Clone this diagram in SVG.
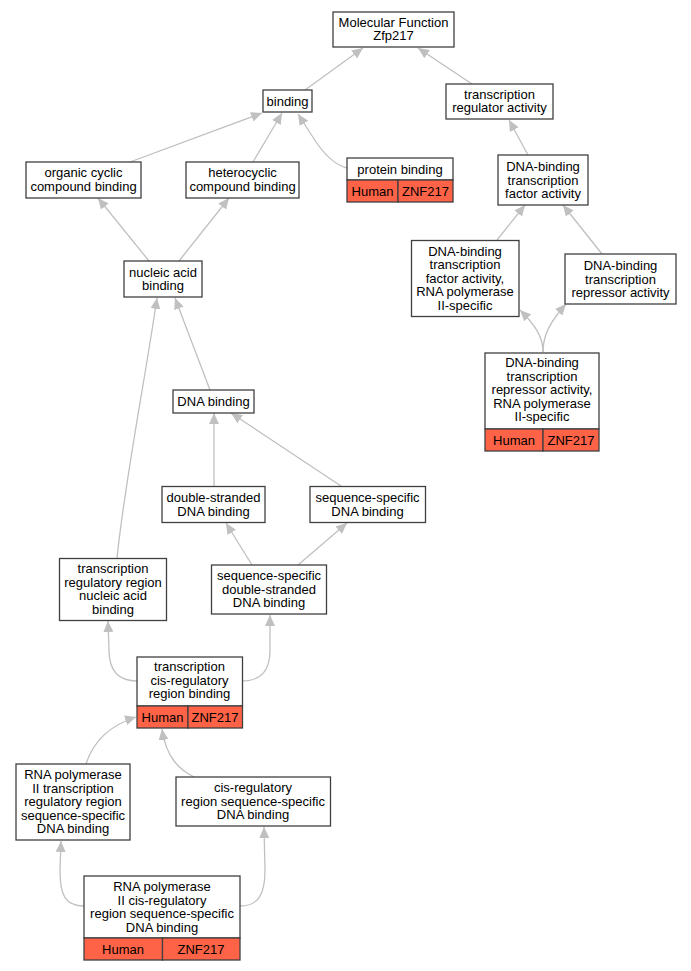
<svg xmlns="http://www.w3.org/2000/svg" width="691" height="971" viewBox="0 0 691 971">
<defs>
<style>
.n rect{fill:#fff;stroke:#404040;stroke-width:1.3}
.n rect.h{fill:#ff6347}
text{font-family:"Liberation Sans",Arial,sans-serif;font-size:13px;fill:#000;text-anchor:middle}
.e path{fill:none;stroke:#c0c0c0;stroke-width:1.3;marker-end:url(#a)}
</style>
<marker id="a" markerUnits="userSpaceOnUse" markerWidth="12" markerHeight="10" refX="11" refY="5" orient="auto"><path d="M0,0 L11,5 L0,10 Z" fill="#c0c0c0"/></marker>
</defs>
<rect width="691" height="971" fill="#fff"/>
<g id="edges" class="e">
<path d="M305,90 L363,48"/>
<path d="M472,84 L418,48"/>
<path d="M130,162 L262,113"/>
<path d="M253,162 L282,113"/>
<path d="M347,168 C335,165 325,155 316,142 L298,114"/>
<path d="M528,155 L509,120"/>
<path d="M149,261 L98,198"/>
<path d="M179,261 L229,198"/>
<path d="M497,240 L525,205"/>
<path d="M602,254 L563,205"/>
<path d="M543,352 C543,338 537,327 520,310"/>
<path d="M543,352 C543,335 550,322 566,304"/>
<path d="M210,390 L175,298"/>
<path d="M117,558 C125,480 145,380 157,298"/>
<path d="M214,486 L214,413"/>
<path d="M341,486 L231,413"/>
<path d="M252,565 L226,523"/>
<path d="M298,565 L347,523"/>
<path d="M137,681 C118,681 109,670 109,650 L108,621"/>
<path d="M242,681 C262,681 270,670 270,650 L270,615"/>
<path d="M86,764 C92,745 105,727 136,717"/>
<path d="M194,777 C180,770 166,758 162,729"/>
<path d="M84,906 C65,906 60,895 60,870 L61,841"/>
<path d="M240,906 C258,906 265,895 265,870 L264,827"/>
</g>
<g id="mf" class="n"><rect x="333" y="12" width="121" height="35"/><text x="393.5" y="26.5">Molecular Function</text><text x="393.5" y="40">Zfp217</text></g>
<g id="binding" class="n"><rect x="263" y="90" width="49" height="22"/><text x="287.5" y="105.5">binding</text></g>
<g id="tra" class="n"><rect x="446" y="84" width="107" height="35"/><text x="499.5" y="98.5">transcription</text><text x="499.5" y="112">regulator activity</text></g>
<g id="occb" class="n"><rect x="26" y="162" width="115" height="36"/><text x="83.5" y="177">organic cyclic</text><text x="83.5" y="190.5">compound binding</text></g>
<g id="hcb" class="n"><rect x="186" y="162" width="113" height="36"/><text x="242.5" y="177">heterocyclic</text><text x="242.5" y="190.5">compound binding</text></g>
<g id="pb" class="n"><rect x="347" y="158" width="106" height="22"/><rect class="h" x="347" y="180" width="51" height="22"/><rect class="h" x="398" y="180" width="55" height="22"/><text x="400" y="173.5">protein binding</text><text x="372.5" y="195.5">Human</text><text x="425.5" y="195.5">ZNF217</text></g>
<g id="dtfa" class="n"><rect x="498" y="155" width="90" height="50"/><text x="543" y="171">DNA-binding</text><text x="543" y="184.5">transcription</text><text x="543" y="198">factor activity</text></g>
<g id="nab" class="n"><rect x="124" y="261" width="78" height="36"/><text x="163" y="276.5">nucleic acid</text><text x="163" y="290">binding</text></g>
<g id="dtfa2" class="n"><rect x="411.5" y="240.5" width="107.5" height="76"/><text x="465" y="255.5">DNA-binding</text><text x="465" y="269">transcription</text><text x="465" y="282.5">factor activity,</text><text x="465" y="296">RNA polymerase</text><text x="465" y="309.5">II-specific</text></g>
<g id="dtra" class="n"><rect x="565" y="254" width="111" height="50"/><text x="620.5" y="270">DNA-binding</text><text x="620.5" y="283.5">transcription</text><text x="620.5" y="297">repressor activity</text></g>
<g id="dtra2" class="n"><rect x="485" y="353" width="114" height="76"/><rect class="h" x="485" y="429" width="58" height="22"/><rect class="h" x="543" y="429" width="56" height="22"/><text x="542" y="367">DNA-binding</text><text x="542" y="380.5">transcription</text><text x="542" y="394">repressor activity,</text><text x="542" y="407.5">RNA polymerase</text><text x="542" y="421">II-specific</text><text x="514" y="444.5">Human</text><text x="571" y="444.5">ZNF217</text></g>
<g id="dnab" class="n"><rect x="173" y="390" width="81" height="23"/><text x="213.5" y="406">DNA binding</text></g>
<g id="dsdb" class="n"><rect x="162" y="486.5" width="103" height="36"/><text x="213.5" y="502">double-stranded</text><text x="213.5" y="515.5">DNA binding</text></g>
<g id="ssdb" class="n"><rect x="310" y="486.5" width="115.5" height="36"/><text x="367.5" y="502">sequence-specific</text><text x="367.5" y="515.5">DNA binding</text></g>
<g id="trrnab" class="n"><rect x="59.5" y="558.5" width="107" height="62"/><text x="113" y="573">transcription</text><text x="113" y="586.5">regulatory region</text><text x="113" y="600">nucleic acid</text><text x="113" y="613.5">binding</text></g>
<g id="ssdsdb" class="n"><rect x="211.5" y="565" width="115" height="49"/><text x="269" y="580">sequence-specific</text><text x="269" y="593.5">double-stranded</text><text x="269" y="607">DNA binding</text></g>
<g id="tcrb" class="n"><rect x="137" y="657" width="105.5" height="49"/><rect class="h" x="137" y="706" width="51" height="22"/><rect class="h" x="188" y="706" width="54.5" height="22"/><text x="189.5" y="671">transcription</text><text x="189.5" y="684.5">cis-regulatory</text><text x="189.5" y="698">region binding</text><text x="162.5" y="721.5">Human</text><text x="215" y="721.5">ZNF217</text></g>
<g id="rp2trr" class="n"><rect x="16" y="764" width="114" height="76"/><text x="73" y="779">RNA polymerase</text><text x="73" y="792.5">II transcription</text><text x="73" y="806">regulatory region</text><text x="73" y="819.5">sequence-specific</text><text x="73" y="833">DNA binding</text></g>
<g id="crssdb" class="n"><rect x="176" y="777" width="154.5" height="49"/><text x="253" y="792">cis-regulatory</text><text x="253" y="805.5">region sequence-specific</text><text x="253" y="819">DNA binding</text></g>
<g id="rp2cr" class="n"><rect x="84" y="876" width="156" height="62"/><rect class="h" x="84" y="938" width="78.5" height="22"/><rect class="h" x="162.5" y="938" width="77.5" height="22"/><text x="162" y="891">RNA polymerase</text><text x="162" y="904.5">II cis-regulatory</text><text x="162" y="918">region sequence-specific</text><text x="162" y="931.5">DNA binding</text><text x="123" y="953.5">Human</text><text x="201" y="953.5">ZNF217</text></g>
</svg>
